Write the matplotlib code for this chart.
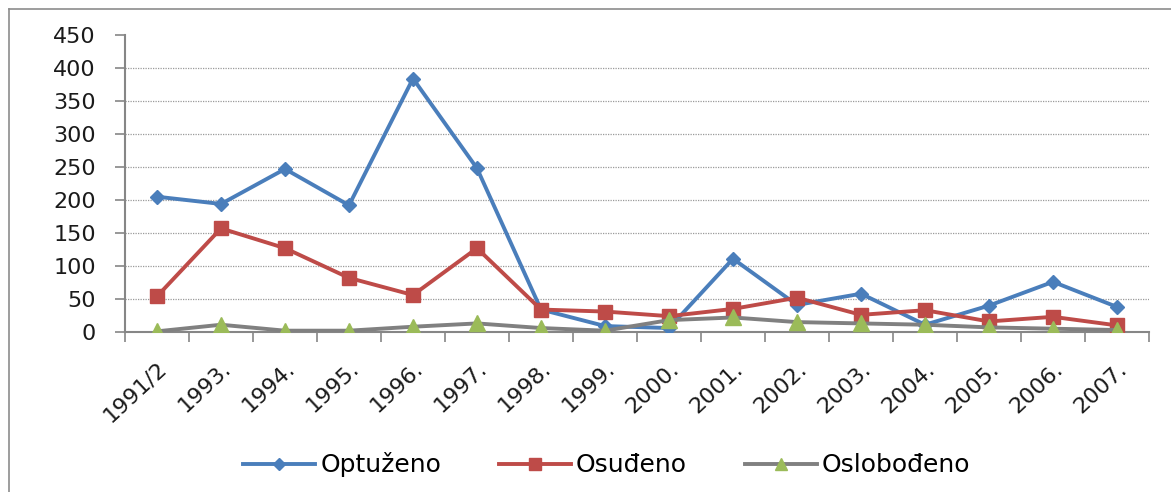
import numpy as np
import matplotlib.pyplot as plt
from matplotlib.lines import Line2D

years = ['1991/2', '1993.', '1994.', '1995.', '1996.', '1997.', '1998.', '1999.',
         '2000.', '2001.', '2002.', '2003.', '2004.', '2005.', '2006.', '2007.']
optuzeno = [205, 194, 247, 192, 384, 248, 34, 9, 6, 111, 41, 58, 11, 40, 76, 38]
osudjeno = [54, 157, 127, 82, 56, 127, 34, 31, 24, 35, 52, 26, 33, 16, 23, 10]
oslobodjeno = [1, 11, 2, 2, 8, 13, 6, 2, 18, 22, 15, 13, 11, 7, 5, 3]
yticks = [0, 50, 100, 150, 200, 250, 300, 350, 400, 450]

blue = '#4A7EBB'
red = '#BE4B48'
gray = '#808080'
green = '#9BBB59'
axis_col = '#868686'

fig = plt.figure(figsize=(11.71, 4.92), dpi=100)
ax = fig.add_axes([125 / 1171, 1 - 332 / 492, 1024 / 1171, 297 / 492])

x = np.arange(len(years))

# gridlines (none at 0 and 450, like the original)
ax.hlines(yticks[1:-1], -0.5, len(years) - 0.5, colors='#9a9a9a',
          linestyles=(0, (1, 1)), linewidth=0.9, zorder=1)

ax.plot(x, optuzeno, color=blue, lw=2.8, marker='D', ms=7.5,
        mfc=blue, mec=blue, zorder=3, label='Optuženo')
ax.plot(x, osudjeno, color=red, lw=2.8, marker='s', ms=10,
        mfc=red, mec=red, zorder=4, label='Osuđeno')
ax.plot(x, oslobodjeno, color=gray, lw=2.8, marker='^', ms=11,
        mfc=green, mec=green, zorder=5, label='Oslobođeno')

ax.set_xlim(-0.5, len(years) - 0.5)
ax.set_ylim(0, 450)

ax.spines['top'].set_visible(False)
ax.spines['right'].set_visible(False)
for s in ['left', 'bottom']:
    ax.spines[s].set_color(axis_col)
    ax.spines[s].set_linewidth(1.5)

ax.set_yticks(yticks)
ax.tick_params(axis='y', length=7, width=1.2, color=axis_col, pad=14,
               labelsize=16, labelcolor='#1a1a1a')

ax.set_xticks(x)
ax.set_xticklabels(years, rotation=43, ha='right', rotation_mode='anchor',
                   fontsize=16, color='#1a1a1a')
ax.set_xticks(np.arange(-0.5, len(years)), minor=True)
ax.tick_params(axis='x', which='major', length=0, pad=19)
ax.tick_params(axis='x', which='minor', length=7, width=1.2, color=axis_col)

handles = [
    Line2D([], [], color=blue, lw=2.8, marker='D', ms=6, mfc=blue, mec=blue),
    Line2D([], [], color=red, lw=2.8, marker='s', ms=9, mfc=red, mec=red),
    Line2D([], [], color=gray, lw=2.8, marker='^', ms=8, mfc=green, mec=green),
]
fig.legend(handles, ['Optuženo', 'Osuđeno', 'Oslobođeno'], loc='center',
           bbox_to_anchor=(0.518, 0.055), ncol=3, frameon=False, fontsize=18,
           handlelength=2.9, columnspacing=2.3, handletextpad=0.2)

# chart frame
fig.add_artist(Line2D([9 / 1171, 1], [1 - 9 / 492, 1 - 9 / 492], color='#8c8c8c', lw=1.2))
fig.add_artist(Line2D([9 / 1171, 9 / 1171], [0, 1 - 9 / 492], color='#8c8c8c', lw=1.2))

plt.savefig('out.png', dpi=100)
